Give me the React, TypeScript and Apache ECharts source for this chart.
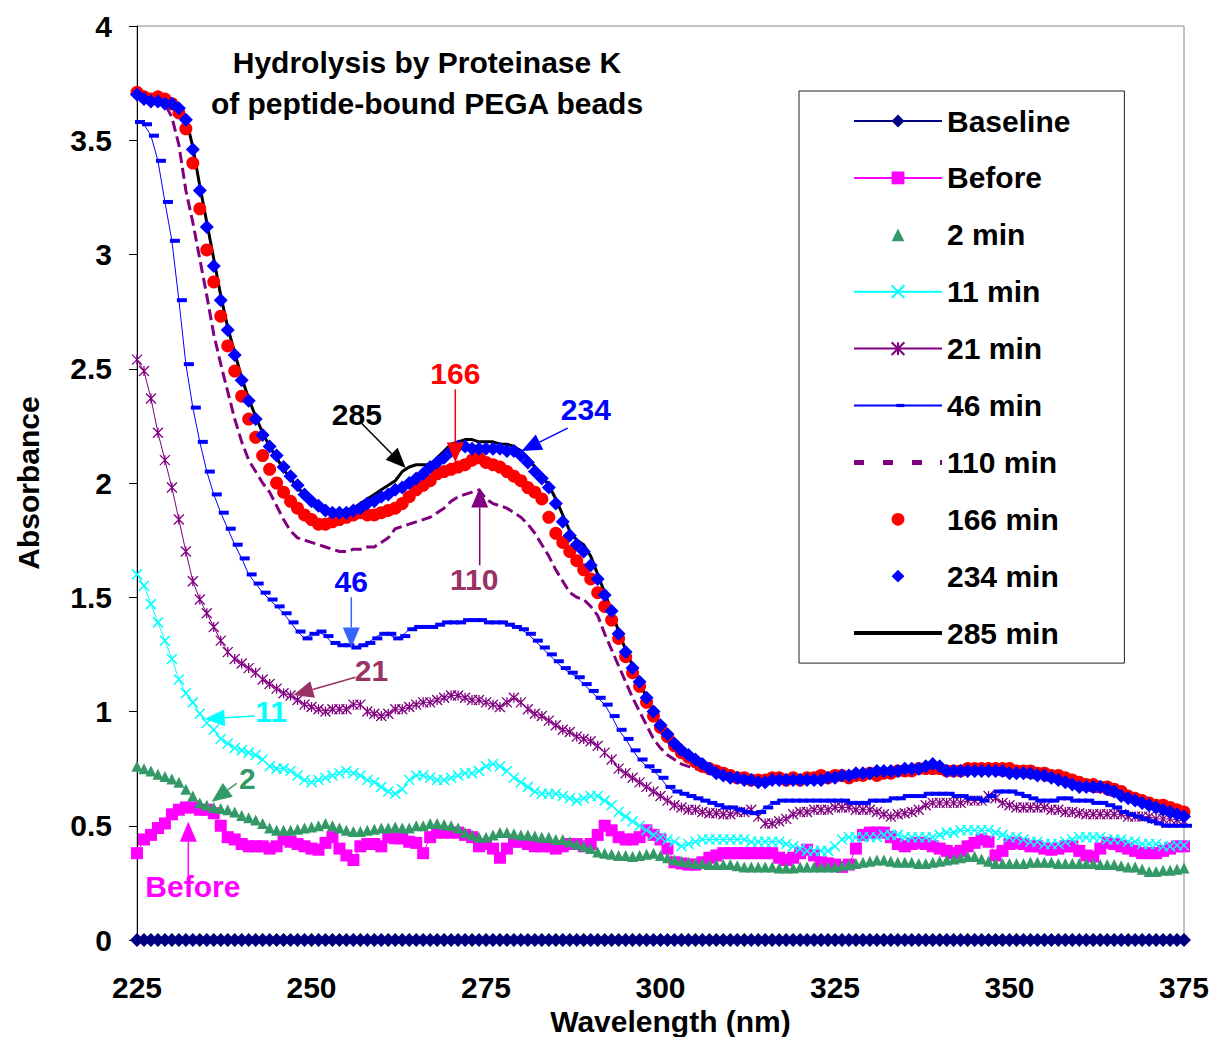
import React, { useEffect, useRef } from "react";
import * as echarts from "echarts";

const FONT = "'Liberation Sans', Arial, Helvetica, sans-serif";

const wavelengths = [
  225, 226, 227, 228, 229, 230, 231, 232, 233, 234,
  235, 236, 237, 238, 239, 240, 241, 242, 243, 244,
  245, 246, 247, 248, 249, 250, 251, 252, 253, 254,
  255, 256, 257, 258, 259, 260, 261, 262, 263, 264,
  265, 266, 267, 268, 269, 270, 271, 272, 273, 274,
  275, 276, 277, 278, 279, 280, 281, 282, 283, 284,
  285, 286, 287, 288, 289, 290, 291, 292, 293, 294,
  295, 296, 297, 298, 299, 300, 301, 302, 303, 304,
  305, 306, 307, 308, 309, 310, 311, 312, 313, 314,
  315, 316, 317, 318, 319, 320, 321, 322, 323, 324,
  325, 326, 327, 328, 329, 330, 331, 332, 333, 334,
  335, 336, 337, 338, 339, 340, 341, 342, 343, 344,
  345, 346, 347, 348, 349, 350, 351, 352, 353, 354,
  355, 356, 357, 358, 359, 360, 361, 362, 363, 364,
  365, 366, 367, 368, 369, 370, 371, 372, 373, 374,
  375,
];

const baseline = [
  0, 0, 0, 0, 0, 0, 0, 0, 0, 0,
  0, 0, 0, 0, 0, 0, 0, 0, 0, 0,
  0, 0, 0, 0, 0, 0, 0, 0, 0, 0,
  0, 0, 0, 0, 0, 0, 0, 0, 0, 0,
  0, 0, 0, 0, 0, 0, 0, 0, 0, 0,
  0, 0, 0, 0, 0, 0, 0, 0, 0, 0,
  0, 0, 0, 0, 0, 0, 0, 0, 0, 0,
  0, 0, 0, 0, 0, 0, 0, 0, 0, 0,
  0, 0, 0, 0, 0, 0, 0, 0, 0, 0,
  0, 0, 0, 0, 0, 0, 0, 0, 0, 0,
  0, 0, 0, 0, 0, 0, 0, 0, 0, 0,
  0, 0, 0, 0, 0, 0, 0, 0, 0, 0,
  0, 0, 0, 0, 0, 0, 0, 0, 0, 0,
  0, 0, 0, 0, 0, 0, 0, 0, 0, 0,
  0, 0, 0, 0, 0, 0, 0, 0, 0, 0,
  0,
];

const before = [
  0.38, 0.44, 0.46, 0.49, 0.51, 0.55, 0.57, 0.58, 0.58, 0.57,
  0.57, 0.555, 0.5, 0.45, 0.44, 0.42, 0.41, 0.41, 0.41, 0.4,
  0.41, 0.44, 0.43, 0.42, 0.41, 0.4, 0.395, 0.425, 0.45, 0.4,
  0.37, 0.35, 0.41, 0.42, 0.42, 0.41, 0.45, 0.445, 0.445, 0.43,
  0.425, 0.38, 0.45, 0.47, 0.47, 0.47, 0.47, 0.46, 0.45, 0.41,
  0.42, 0.4, 0.36, 0.4, 0.43, 0.43, 0.42, 0.41, 0.41, 0.41,
  0.4, 0.41, 0.42, 0.42, 0.41, 0.42, 0.46, 0.5, 0.48, 0.45,
  0.44, 0.44, 0.45, 0.48, 0.46, 0.44, 0.4, 0.34, 0.335, 0.33,
  0.33, 0.34, 0.36, 0.37, 0.38, 0.38, 0.38, 0.38, 0.38, 0.38,
  0.38, 0.38, 0.36, 0.35, 0.36, 0.38, 0.395, 0.37, 0.34, 0.335,
  0.33, 0.32, 0.33, 0.4, 0.46, 0.47, 0.47, 0.47, 0.45, 0.42,
  0.41, 0.42, 0.425, 0.42, 0.41, 0.4, 0.39, 0.38, 0.39, 0.41,
  0.425, 0.44, 0.43, 0.37, 0.39, 0.42, 0.425, 0.42, 0.41, 0.41,
  0.4, 0.395, 0.4, 0.41, 0.41, 0.39, 0.37, 0.365, 0.4, 0.425,
  0.42, 0.41, 0.4, 0.39, 0.38, 0.38, 0.38, 0.39, 0.4, 0.41,
  0.41,
];

const min2 = [
  0.76, 0.75, 0.74, 0.725, 0.715, 0.705, 0.69, 0.66, 0.63, 0.6,
  0.59, 0.58, 0.575, 0.57, 0.56, 0.545, 0.535, 0.525, 0.51, 0.49,
  0.48, 0.48, 0.48, 0.485, 0.49, 0.495, 0.5, 0.51, 0.5, 0.49,
  0.48, 0.475, 0.475, 0.48, 0.485, 0.49, 0.49, 0.495, 0.49, 0.49,
  0.5, 0.5, 0.51, 0.51, 0.505, 0.5, 0.49, 0.47, 0.46, 0.45,
  0.45, 0.46, 0.47, 0.47, 0.465, 0.46, 0.46, 0.455, 0.45, 0.45,
  0.44, 0.44, 0.43, 0.42, 0.41, 0.4, 0.385, 0.38, 0.375, 0.37,
  0.37, 0.365, 0.37, 0.375, 0.38, 0.37, 0.36, 0.35, 0.345, 0.34,
  0.335, 0.335, 0.33, 0.33, 0.33, 0.33, 0.325, 0.32, 0.32, 0.32,
  0.32, 0.32, 0.315, 0.315, 0.315, 0.32, 0.32, 0.32, 0.32, 0.32,
  0.32, 0.325, 0.33, 0.335, 0.34, 0.345, 0.35, 0.35, 0.345, 0.34,
  0.34, 0.34, 0.335, 0.335, 0.34, 0.345, 0.35, 0.355, 0.36, 0.365,
  0.365, 0.355, 0.345, 0.335, 0.335, 0.335, 0.335, 0.335, 0.34, 0.34,
  0.34, 0.34, 0.335, 0.335, 0.335, 0.335, 0.335, 0.335, 0.33, 0.33,
  0.33, 0.325, 0.32, 0.32, 0.31, 0.3, 0.3, 0.305, 0.305, 0.31,
  0.315,
];

const min11 = [
  1.6, 1.55, 1.47, 1.39, 1.31, 1.23, 1.14, 1.08, 1.04, 0.99,
  0.95, 0.92, 0.88, 0.86, 0.84, 0.83, 0.82, 0.81, 0.79, 0.76,
  0.75, 0.75, 0.74, 0.72, 0.7, 0.69, 0.7, 0.71, 0.72, 0.73,
  0.74, 0.73, 0.72, 0.7, 0.69, 0.67, 0.65, 0.64, 0.66, 0.7,
  0.72, 0.72, 0.71, 0.7, 0.7, 0.71, 0.72, 0.73, 0.73, 0.74,
  0.76, 0.77, 0.76, 0.74, 0.71, 0.69, 0.67, 0.65, 0.64, 0.64,
  0.64, 0.63, 0.62, 0.61, 0.62, 0.63, 0.63, 0.61, 0.59, 0.56,
  0.54, 0.52, 0.5, 0.48, 0.46, 0.45, 0.44, 0.43, 0.41, 0.42,
  0.43, 0.44, 0.44, 0.44, 0.44, 0.44, 0.44, 0.44, 0.43, 0.43,
  0.43, 0.43, 0.43, 0.42, 0.41, 0.4, 0.39, 0.39, 0.39, 0.39,
  0.41, 0.44, 0.45, 0.45, 0.45, 0.45, 0.45, 0.46, 0.46, 0.46,
  0.45, 0.45, 0.45, 0.45, 0.45, 0.46, 0.47, 0.47, 0.48, 0.48,
  0.48, 0.48, 0.48, 0.47, 0.46, 0.45, 0.45, 0.44, 0.43, 0.43,
  0.42, 0.42, 0.42, 0.43, 0.44, 0.45, 0.45, 0.45, 0.45, 0.44,
  0.44, 0.44, 0.43, 0.43, 0.42, 0.42, 0.42, 0.41, 0.41, 0.415,
  0.415,
];

const min21 = [
  2.54, 2.49, 2.37, 2.22, 2.1, 1.98, 1.84, 1.7, 1.57, 1.49,
  1.43, 1.37, 1.31, 1.26, 1.23, 1.21, 1.19, 1.17, 1.14, 1.12,
  1.1, 1.08, 1.07, 1.05, 1.03, 1.02, 1.01, 1.0, 1.01, 1.01,
  1.01, 1.03, 1.03, 1.0, 0.99, 0.98, 0.99, 1.01, 1.01, 1.02,
  1.03, 1.04, 1.04, 1.05, 1.06, 1.07, 1.07, 1.06, 1.05, 1.05,
  1.04, 1.03, 1.02, 1.04, 1.06, 1.04, 1.01, 0.99, 0.98, 0.96,
  0.94, 0.92, 0.91, 0.89, 0.88, 0.87, 0.85, 0.82, 0.79, 0.75,
  0.73, 0.71, 0.69, 0.67, 0.65, 0.63, 0.61, 0.59, 0.58, 0.57,
  0.57, 0.56, 0.555, 0.555, 0.55, 0.55, 0.56, 0.56, 0.57, 0.54,
  0.51, 0.51, 0.52, 0.53, 0.55, 0.56, 0.56, 0.57, 0.57, 0.57,
  0.58, 0.58, 0.58, 0.57, 0.57, 0.57, 0.56, 0.55, 0.54, 0.55,
  0.555, 0.56, 0.57, 0.59, 0.6, 0.6, 0.6, 0.6, 0.6, 0.61,
  0.61, 0.61, 0.63, 0.62, 0.6, 0.59, 0.58, 0.58, 0.58, 0.58,
  0.58, 0.57, 0.57, 0.56, 0.56, 0.555, 0.55, 0.55, 0.55, 0.55,
  0.55, 0.55, 0.54, 0.54, 0.54, 0.54, 0.53, 0.53, 0.53, 0.525,
  0.52,
];

const min46 = [
  3.58, 3.57, 3.52, 3.41, 3.23, 3.06, 2.8, 2.52, 2.33, 2.18,
  2.05, 1.95, 1.87, 1.8, 1.73, 1.67, 1.6, 1.56, 1.52, 1.49,
  1.46, 1.43, 1.39, 1.35, 1.32, 1.34, 1.35, 1.33, 1.3, 1.29,
  1.29, 1.28, 1.29, 1.3, 1.32, 1.34, 1.34, 1.32, 1.33, 1.36,
  1.37, 1.37, 1.37, 1.38, 1.39, 1.39, 1.39, 1.4, 1.4, 1.4,
  1.39, 1.39, 1.39, 1.38, 1.37, 1.36, 1.34, 1.31, 1.28, 1.25,
  1.22, 1.19, 1.17, 1.15, 1.12, 1.09, 1.06, 1.03, 0.98, 0.92,
  0.88, 0.83, 0.79, 0.76, 0.74, 0.71, 0.67, 0.65, 0.64, 0.63,
  0.62, 0.61, 0.6, 0.59, 0.58, 0.58, 0.57, 0.56, 0.555, 0.56,
  0.58, 0.6, 0.61, 0.61, 0.61, 0.61, 0.61, 0.61, 0.61, 0.61,
  0.61, 0.61, 0.6, 0.6, 0.6, 0.61, 0.61, 0.61, 0.62, 0.62,
  0.63, 0.63, 0.63, 0.64, 0.64, 0.64, 0.64, 0.63, 0.63, 0.62,
  0.62, 0.61, 0.63, 0.65, 0.65, 0.65, 0.64, 0.63, 0.62, 0.61,
  0.61, 0.61, 0.62, 0.62, 0.61, 0.61, 0.61, 0.6, 0.6, 0.59,
  0.58, 0.56, 0.55, 0.54, 0.53, 0.52, 0.51, 0.5, 0.5, 0.5,
  0.5,
];

const min110 = [
  3.69, 3.68, 3.67, 3.67, 3.66, 3.6, 3.48, 3.28, 3.14, 2.98,
  2.82, 2.65, 2.52, 2.4, 2.28, 2.18, 2.1, 2.05, 2.0, 1.96,
  1.9, 1.84, 1.79, 1.76, 1.75, 1.74, 1.73, 1.72, 1.71, 1.7,
  1.7, 1.71, 1.71, 1.72, 1.72, 1.74, 1.76, 1.8, 1.81, 1.82,
  1.83, 1.84, 1.85, 1.87, 1.89, 1.92, 1.94, 1.95, 1.96, 1.97,
  1.93, 1.91, 1.9, 1.89, 1.87, 1.85, 1.82, 1.78, 1.73, 1.68,
  1.62, 1.57, 1.52, 1.5, 1.49, 1.46, 1.42, 1.34, 1.27, 1.2,
  1.13, 1.06, 1.0, 0.94, 0.88, 0.84, 0.81, 0.79, 0.77, 0.76,
  0.75, 0.74, 0.73, 0.72, 0.71, 0.7, 0.7, 0.69, 0.69, 0.69,
  0.69, 0.69, 0.69, 0.69, 0.69, 0.69, 0.69, 0.69, 0.7, 0.7,
  0.7, 0.7, 0.71, 0.71, 0.71, 0.72, 0.72, 0.72, 0.72, 0.73,
  0.73, 0.73, 0.73, 0.74, 0.74, 0.74, 0.73, 0.73, 0.73, 0.73,
  0.73, 0.73, 0.73, 0.73, 0.72, 0.72, 0.72, 0.72, 0.71, 0.71,
  0.7, 0.7, 0.69, 0.68, 0.67, 0.66, 0.66, 0.65, 0.65, 0.64,
  0.63, 0.62, 0.61, 0.6, 0.59, 0.58, 0.57, 0.56, 0.55, 0.54,
  0.53,
];

const min166 = [
  3.71, 3.69, 3.68, 3.69, 3.68, 3.66, 3.62, 3.55, 3.4, 3.2,
  3.02, 2.88, 2.73, 2.6, 2.49, 2.38, 2.28, 2.2, 2.12, 2.06,
  2.0, 1.96, 1.92, 1.89, 1.86, 1.84, 1.82, 1.82, 1.83, 1.84,
  1.85, 1.86, 1.87, 1.86, 1.86, 1.87, 1.88, 1.89, 1.91, 1.94,
  1.97, 1.99, 2.01, 2.04, 2.05, 2.06, 2.07, 2.08, 2.1, 2.11,
  2.09, 2.08, 2.07, 2.05, 2.03, 2.01, 1.98, 1.96, 1.93, 1.85,
  1.78, 1.74, 1.7, 1.66, 1.62, 1.58, 1.52, 1.46, 1.4, 1.32,
  1.24, 1.17, 1.11, 1.04, 0.98, 0.93, 0.89, 0.85, 0.82, 0.8,
  0.78, 0.76, 0.75, 0.74, 0.73, 0.72, 0.71, 0.71, 0.7, 0.7,
  0.7, 0.71, 0.71, 0.7, 0.71, 0.7, 0.71, 0.71, 0.72, 0.71,
  0.72, 0.72, 0.71, 0.72, 0.72, 0.73, 0.72, 0.73, 0.73, 0.74,
  0.74, 0.74, 0.75, 0.75, 0.75, 0.75, 0.74, 0.74, 0.74, 0.75,
  0.75, 0.75, 0.75, 0.75, 0.75, 0.75, 0.74, 0.74, 0.74, 0.73,
  0.73, 0.72, 0.72, 0.71, 0.7, 0.69, 0.68, 0.68, 0.67, 0.67,
  0.66, 0.65, 0.63, 0.62, 0.61, 0.6, 0.59, 0.59, 0.58, 0.57,
  0.56,
];

const min234 = [
  3.7, 3.68, 3.67, 3.67, 3.66, 3.66, 3.64, 3.59, 3.46, 3.28,
  3.12, 2.95, 2.8, 2.67, 2.56, 2.45, 2.36, 2.28, 2.21, 2.16,
  2.12, 2.07, 2.03, 1.99, 1.95, 1.92, 1.9, 1.88, 1.87, 1.87,
  1.87, 1.88, 1.89, 1.91, 1.92, 1.94, 1.95, 1.97, 1.98, 2.0,
  2.02, 2.04, 2.07, 2.09, 2.11, 2.14, 2.16, 2.16, 2.15, 2.15,
  2.15, 2.15, 2.15, 2.14, 2.14, 2.12, 2.09, 2.05, 2.02, 1.98,
  1.91, 1.83, 1.77, 1.73, 1.7, 1.64, 1.58, 1.51, 1.44, 1.34,
  1.26, 1.19, 1.13, 1.06, 1.0, 0.94, 0.9, 0.86, 0.83, 0.81,
  0.79, 0.77, 0.75, 0.73, 0.72, 0.71, 0.71, 0.7, 0.7, 0.69,
  0.69, 0.7, 0.7, 0.7, 0.7, 0.7, 0.7, 0.7, 0.7, 0.71,
  0.71, 0.72, 0.72, 0.73, 0.73, 0.73, 0.74, 0.74, 0.74, 0.74,
  0.75, 0.75, 0.75, 0.76, 0.77, 0.76, 0.74, 0.74, 0.74, 0.74,
  0.74, 0.74, 0.74, 0.74, 0.74, 0.73, 0.73, 0.73, 0.73, 0.72,
  0.72, 0.71, 0.7, 0.69, 0.68, 0.67, 0.67, 0.67, 0.67, 0.66,
  0.65, 0.63, 0.62, 0.61, 0.6, 0.59, 0.58, 0.57, 0.56, 0.55,
  0.54,
];

const min285 = [
  3.7, 3.68, 3.67, 3.67, 3.66, 3.66, 3.64, 3.6, 3.47, 3.3,
  3.14, 2.98, 2.82, 2.68, 2.57, 2.46, 2.37, 2.29, 2.22, 2.16,
  2.11, 2.06, 2.02, 1.98, 1.95, 1.92, 1.9, 1.88, 1.88, 1.87,
  1.88, 1.89, 1.91, 1.93, 1.95, 1.97, 1.99, 2.01, 2.05, 2.07,
  2.08, 2.08, 2.08, 2.11, 2.14, 2.17, 2.18, 2.19, 2.19, 2.18,
  2.18, 2.18, 2.17, 2.17, 2.16, 2.14, 2.11, 2.07, 2.03, 1.99,
  1.93, 1.86, 1.79, 1.75, 1.73, 1.68, 1.6, 1.52, 1.44, 1.35,
  1.27, 1.2, 1.13, 1.06, 1.0, 0.94, 0.9, 0.86, 0.83, 0.81,
  0.79, 0.77, 0.75, 0.73, 0.72, 0.71, 0.71, 0.7, 0.7, 0.7,
  0.7, 0.7, 0.7, 0.7, 0.7, 0.7, 0.7, 0.71, 0.71, 0.71,
  0.71, 0.72, 0.72, 0.73, 0.73, 0.73, 0.74, 0.74, 0.74, 0.74,
  0.75, 0.75, 0.75, 0.76, 0.76, 0.76, 0.75, 0.74, 0.74, 0.74,
  0.74, 0.74, 0.74, 0.74, 0.74, 0.74, 0.73, 0.73, 0.73, 0.72,
  0.72, 0.71, 0.7, 0.69, 0.68, 0.68, 0.67, 0.67, 0.67, 0.66,
  0.65, 0.64, 0.62, 0.61, 0.6, 0.59, 0.58, 0.57, 0.56, 0.55,
  0.54,
];

const xTicks = { min: 225, max: 375, interval: 25 };
const yTicks = { min: 0, max: 4, interval: 0.5 };

const titleLines = ["Hydrolysis by Proteinase K", "of peptide-bound PEGA beads"];

// annotation arrows, in data coordinates [wavelength, absorbance]
const annotations = [
  { label: "285", color: "#000000", lineColor: "#000000", at: [256.5, 2.3], from: [257.2, 2.26], to: [263.5, 2.066] },
  { label: "166", color: "#FF0000", lineColor: "#FF0000", at: [270.6, 2.48], from: [270.6, 2.41], to: [270.6, 2.09] },
  { label: "234", color: "#0000FF", lineColor: "#0000FF", at: [289.3, 2.32], from: [286.7, 2.24], to: [280.1, 2.14] },
  { label: "46", color: "#0000FF", lineColor: "#3366FF", at: [255.7, 1.571], from: [255.7, 1.5], to: [255.7, 1.28] },
  { label: "110", color: "#993366", lineColor: "#800080", at: [273.3, 1.576], from: [274.1, 1.64], to: [274.1, 1.98] },
  { label: "21", color: "#993366", lineColor: "#993366", at: [258.6, 1.18], from: [256.3, 1.15], to: [247.4, 1.072] },
  { label: "11", color: "#00FFFF", lineColor: "#00FFFF", at: [244.2, 0.998], from: [241.9, 0.98], to: [234.7, 0.967] },
  { label: "2", color: "#339966", lineColor: "#339966", at: [240.8, 0.705], from: [239.3, 0.686], to: [235.7, 0.605] },
  { label: "Before", color: "#FF00FF", lineColor: "#FF00FF", at: [233.0, 0.236], from: [232.35, 0.277], to: [232.35, 0.518] },
];

const X_SYMBOL = "path://M0,0L10,10M10,0L0,10";
const STAR_SYMBOL = "path://M0,0L10,10M10,0L0,10M5,0L5,10";
const DASH_SYMBOL = "path://M0,0M6,6H16V10H6ZM16,16";

function pairs(values: number[]) {
  return wavelengths.map((w, i) => [w, values[i]]);
}

function markerSeries(name: string, values: number[], color: string, symbol: string, size: number, withLine: boolean, extra: any = {}) {
  return {
    name,
    type: "line",
    data: pairs(values),
    symbol,
    symbolSize: size,
    showSymbol: true,
    silent: true,
    itemStyle: { color, borderColor: color, borderWidth: 0, ...(extra.itemStyle || {}) },
    lineStyle: withLine ? { color, width: 1 } : { color, width: 0, opacity: 0 },
    emphasis: { disabled: true },
  };
}

const FS = 30;

export default function App() {
  const ref = useRef<HTMLDivElement>(null);

  useEffect(() => {
    if (!ref.current) return;
    const chart = echarts.init(ref.current, null, { renderer: "svg" });

    const series: any[] = [
      markerSeries("Baseline", baseline, "#000080", "diamond", 14, true),
      markerSeries("Before", before, "#FF00FF", "rect", 12, true),
      markerSeries("2 min", min2, "#339966", "triangle", 11, false),
      markerSeries("11 min", min11, "#00FFFF", X_SYMBOL, 10, true, {
        itemStyle: { borderWidth: 1.5, color: "#00FFFF", borderColor: "#00FFFF" },
      }),
      markerSeries("21 min", min21, "#800080", STAR_SYMBOL, 10, true, {
        itemStyle: { borderWidth: 1.3, color: "#800080", borderColor: "#800080" },
      }),
      markerSeries("46 min", min46, "#0000FF", DASH_SYMBOL, 16, true),
      {
        name: "110 min",
        type: "line",
        data: pairs(min110),
        symbol: "none",
        silent: true,
        itemStyle: { color: "#800080" },
        lineStyle: { color: "#800080", width: 3, type: [11, 5] },
        emphasis: { disabled: true },
      },
      markerSeries("166 min", min166, "#FF0000", "circle", 13, false),
      markerSeries("234 min", min234, "#0000FF", "diamond", 14, false),
      {
        name: "285 min",
        type: "line",
        data: pairs(min285),
        symbol: "none",
        silent: true,
        itemStyle: { color: "#000000" },
        lineStyle: { color: "#000000", width: 3 },
        emphasis: { disabled: true },
      },
    ];

    const option: any = {
      animation: false,
      backgroundColor: "#ffffff",
      grid: {
        left: 137,
        right: 33,
        top: 26,
        bottom: 97,
        containLabel: false,
        outerBoundsMode: "none",
        show: true,
        borderColor: "#888888",
        borderWidth: 1,
        backgroundColor: "transparent",
      },
      xAxis: {
        type: "value",
        min: xTicks.min,
        max: xTicks.max,
        interval: xTicks.interval,
        name: "Wavelength (nm)",
        nameLocation: "middle",
        nameGap: 63,
        nameTextStyle: { fontFamily: FONT, fontWeight: "bold", fontSize: FS, color: "#000", padding: [0, 0, 0, 20] },
        axisLine: { show: true, onZero: false, lineStyle: { color: "#000", width: 1 } },
        axisTick: { show: true, inside: false, length: 6, lineStyle: { color: "#000" } },
        axisLabel: { margin: 32, fontFamily: FONT, fontWeight: "bold", fontSize: FS, color: "#000" },
        splitLine: { show: false },
      },
      yAxis: {
        type: "value",
        min: yTicks.min,
        max: yTicks.max,
        interval: yTicks.interval,
        name: "Absorbance",
        nameLocation: "middle",
        nameGap: 94,
        nameRotate: 90,
        nameTextStyle: { fontFamily: FONT, fontWeight: "bold", fontSize: FS, color: "#000" },
        axisLine: { show: true, onZero: false, lineStyle: { color: "#000", width: 1 } },
        axisTick: { show: true, inside: false, length: 8, lineStyle: { color: "#000" } },
        axisLabel: { margin: 25, fontFamily: FONT, fontWeight: "bold", fontSize: FS, color: "#000" },
        splitLine: { show: false },
      },
      legend: {
        orient: "vertical",
        left: 799,
        top: 91,
        padding: [14, 54, 14, 54],
        itemWidth: 88,
        itemHeight: 16,
        itemGap: 24.9,
        selectedMode: false,
        borderColor: "#222222",
        borderWidth: 1,
        backgroundColor: "#ffffff",
        textStyle: { fontFamily: FONT, fontWeight: "bold", fontSize: FS, color: "#000", lineHeight: 32 },
        data: [
          { name: "Baseline" },
          { name: "Before" },
          { name: "2 min" },
          { name: "11 min" },
          { name: "21 min" },
          { name: "46 min" },
          { name: "110 min", icon: "path://M0,0H10V5H0Z M29,0H39V5H29Z M58,0H68V5H58Z M86,0H88V5H86Z" },
          { name: "166 min" },
          { name: "234 min" },
          { name: "285 min", icon: "path://M0,0H88V4H0Z" },
        ],
      },
      series,
    };

    chart.setOption(option);

    const graphics: any[] = [];
    titleLines.forEach((t, i) => {
      graphics.push({
        type: "text",
        x: 427,
        y: 62 + i * 41,
        silent: true,
        style: {
          text: t,
          fill: "#000",
          fontFamily: FONT,
          fontWeight: "bold",
          fontSize: FS,
          align: "center",
          verticalAlign: "middle",
        },
      });
    });

    const toPx = (p: number[]) => chart.convertToPixel({ xAxisIndex: 0, yAxisIndex: 0 }, p) as number[];
    annotations.forEach((a) => {
      const p1 = toPx(a.from);
      const p2 = toPx(a.to);
      const pt = toPx(a.at);
      const dx = p2[0] - p1[0];
      const dy = p2[1] - p1[1];
      const len = Math.sqrt(dx * dx + dy * dy) || 1;
      const ux = dx / len;
      const uy = dy / len;
      const headLen = 20;
      const headHalf = 8.5;
      const bx = p2[0] - ux * headLen;
      const by = p2[1] - uy * headLen;
      graphics.push({
        type: "line",
        silent: true,
        shape: { x1: p1[0], y1: p1[1], x2: bx, y2: by },
        style: { stroke: a.lineColor, lineWidth: 1.5 },
        z: 100,
      });
      graphics.push({
        type: "polygon",
        silent: true,
        shape: {
          points: [
            [p2[0], p2[1]],
            [bx - uy * headHalf, by + ux * headHalf],
            [bx + uy * headHalf, by - ux * headHalf],
          ],
        },
        style: { fill: a.lineColor, stroke: "none" },
        z: 100,
      });
      graphics.push({
        type: "text",
        silent: true,
        x: pt[0],
        y: pt[1],
        style: {
          text: a.label,
          fill: a.color,
          fontFamily: FONT,
          fontWeight: "bold",
          fontSize: FS,
          align: "center",
          verticalAlign: "middle",
        },
        z: 100,
      });
    });

    chart.setOption({ graphic: graphics });

    return () => {
      chart.dispose();
    };
  }, []);

  return (
    <div style={{ position: "absolute", left: 0, top: 0, width: 1217, height: 1037, background: "#fff" }}>
      <div ref={ref} style={{ width: 1217, height: 1037 }} />
    </div>
  );
}
